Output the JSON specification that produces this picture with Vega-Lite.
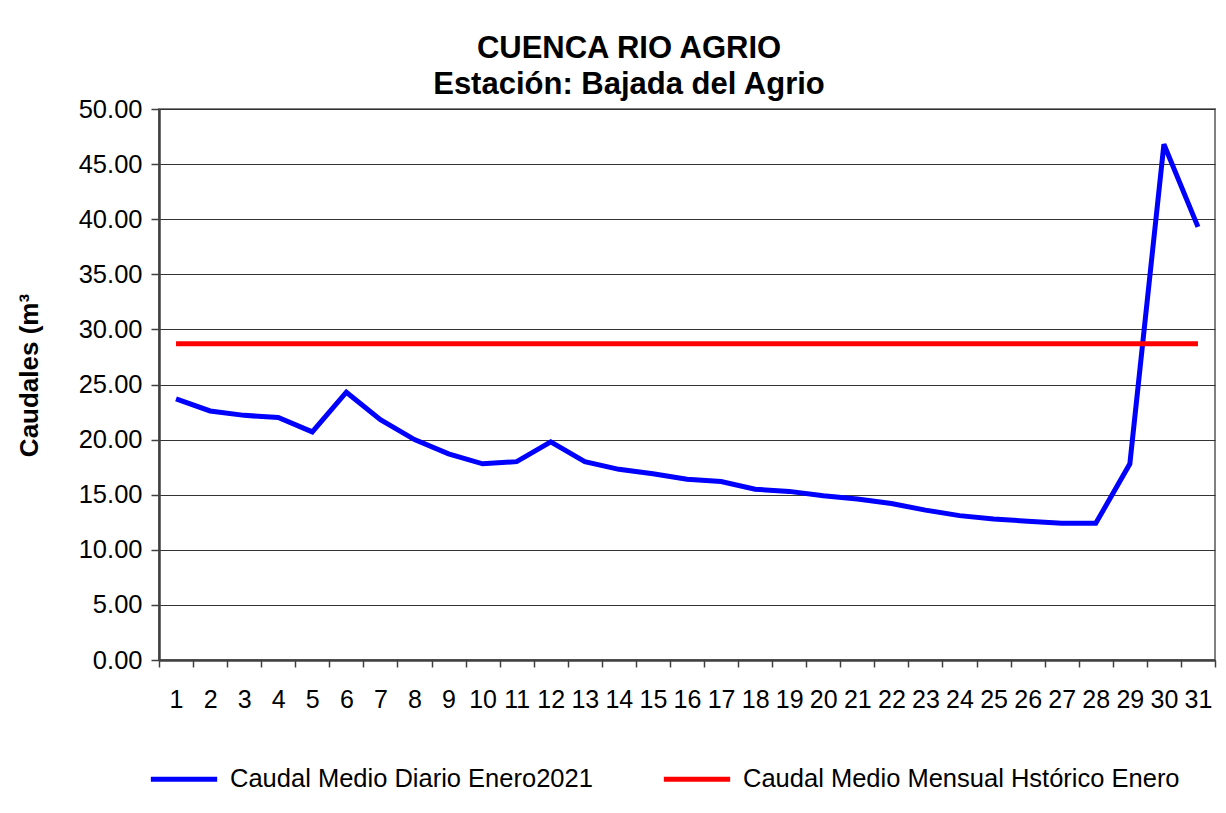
{
  "$schema": "https://vega.github.io/schema/vega-lite/v6.json",
  "autosize": {"type": "none"},
  "width": 1056,
  "height": 551,
  "padding": {"left": 159, "top": 109, "right": 11, "bottom": 153},
  "background": "white",
  "config": {
    "font": "Liberation Sans",
    "view": {"stroke": "#808080", "strokeWidth": 2}
  },
  "title": {
    "text": ["CUENCA RIO AGRIO", "Estación: Bajada del Agrio"],
    "font": "Liberation Sans",
    "fontSize": 31,
    "fontWeight": "bold",
    "color": "black",
    "anchor": "middle",
    "frame": "group",
    "dx": -58,
    "offset": -4,
    "lineHeight": 36
  },
  "data": {
    "values": [
      {"dia": 1, "serie": "Caudal Medio Diario Enero2021", "caudal": 23.7},
      {"dia": 2, "serie": "Caudal Medio Diario Enero2021", "caudal": 22.6},
      {"dia": 3, "serie": "Caudal Medio Diario Enero2021", "caudal": 22.2},
      {"dia": 4, "serie": "Caudal Medio Diario Enero2021", "caudal": 22.0},
      {"dia": 5, "serie": "Caudal Medio Diario Enero2021", "caudal": 20.7},
      {"dia": 6, "serie": "Caudal Medio Diario Enero2021", "caudal": 24.3},
      {"dia": 7, "serie": "Caudal Medio Diario Enero2021", "caudal": 21.8},
      {"dia": 8, "serie": "Caudal Medio Diario Enero2021", "caudal": 20.0},
      {"dia": 9, "serie": "Caudal Medio Diario Enero2021", "caudal": 18.7},
      {"dia": 10, "serie": "Caudal Medio Diario Enero2021", "caudal": 17.8},
      {"dia": 11, "serie": "Caudal Medio Diario Enero2021", "caudal": 18.0},
      {"dia": 12, "serie": "Caudal Medio Diario Enero2021", "caudal": 19.8},
      {"dia": 13, "serie": "Caudal Medio Diario Enero2021", "caudal": 18.0},
      {"dia": 14, "serie": "Caudal Medio Diario Enero2021", "caudal": 17.3},
      {"dia": 15, "serie": "Caudal Medio Diario Enero2021", "caudal": 16.9},
      {"dia": 16, "serie": "Caudal Medio Diario Enero2021", "caudal": 16.4},
      {"dia": 17, "serie": "Caudal Medio Diario Enero2021", "caudal": 16.2},
      {"dia": 18, "serie": "Caudal Medio Diario Enero2021", "caudal": 15.5},
      {"dia": 19, "serie": "Caudal Medio Diario Enero2021", "caudal": 15.3},
      {"dia": 20, "serie": "Caudal Medio Diario Enero2021", "caudal": 14.9},
      {"dia": 21, "serie": "Caudal Medio Diario Enero2021", "caudal": 14.6},
      {"dia": 22, "serie": "Caudal Medio Diario Enero2021", "caudal": 14.2},
      {"dia": 23, "serie": "Caudal Medio Diario Enero2021", "caudal": 13.6},
      {"dia": 24, "serie": "Caudal Medio Diario Enero2021", "caudal": 13.1},
      {"dia": 25, "serie": "Caudal Medio Diario Enero2021", "caudal": 12.8},
      {"dia": 26, "serie": "Caudal Medio Diario Enero2021", "caudal": 12.6},
      {"dia": 27, "serie": "Caudal Medio Diario Enero2021", "caudal": 12.4},
      {"dia": 28, "serie": "Caudal Medio Diario Enero2021", "caudal": 12.4},
      {"dia": 29, "serie": "Caudal Medio Diario Enero2021", "caudal": 17.8},
      {"dia": 30, "serie": "Caudal Medio Diario Enero2021", "caudal": 46.8},
      {"dia": 31, "serie": "Caudal Medio Diario Enero2021", "caudal": 39.3},
      {"dia": 1, "serie": "Caudal Medio Mensual Hstórico Enero", "caudal": 28.7},
      {"dia": 2, "serie": "Caudal Medio Mensual Hstórico Enero", "caudal": 28.7},
      {"dia": 3, "serie": "Caudal Medio Mensual Hstórico Enero", "caudal": 28.7},
      {"dia": 4, "serie": "Caudal Medio Mensual Hstórico Enero", "caudal": 28.7},
      {"dia": 5, "serie": "Caudal Medio Mensual Hstórico Enero", "caudal": 28.7},
      {"dia": 6, "serie": "Caudal Medio Mensual Hstórico Enero", "caudal": 28.7},
      {"dia": 7, "serie": "Caudal Medio Mensual Hstórico Enero", "caudal": 28.7},
      {"dia": 8, "serie": "Caudal Medio Mensual Hstórico Enero", "caudal": 28.7},
      {"dia": 9, "serie": "Caudal Medio Mensual Hstórico Enero", "caudal": 28.7},
      {"dia": 10, "serie": "Caudal Medio Mensual Hstórico Enero", "caudal": 28.7},
      {"dia": 11, "serie": "Caudal Medio Mensual Hstórico Enero", "caudal": 28.7},
      {"dia": 12, "serie": "Caudal Medio Mensual Hstórico Enero", "caudal": 28.7},
      {"dia": 13, "serie": "Caudal Medio Mensual Hstórico Enero", "caudal": 28.7},
      {"dia": 14, "serie": "Caudal Medio Mensual Hstórico Enero", "caudal": 28.7},
      {"dia": 15, "serie": "Caudal Medio Mensual Hstórico Enero", "caudal": 28.7},
      {"dia": 16, "serie": "Caudal Medio Mensual Hstórico Enero", "caudal": 28.7},
      {"dia": 17, "serie": "Caudal Medio Mensual Hstórico Enero", "caudal": 28.7},
      {"dia": 18, "serie": "Caudal Medio Mensual Hstórico Enero", "caudal": 28.7},
      {"dia": 19, "serie": "Caudal Medio Mensual Hstórico Enero", "caudal": 28.7},
      {"dia": 20, "serie": "Caudal Medio Mensual Hstórico Enero", "caudal": 28.7},
      {"dia": 21, "serie": "Caudal Medio Mensual Hstórico Enero", "caudal": 28.7},
      {"dia": 22, "serie": "Caudal Medio Mensual Hstórico Enero", "caudal": 28.7},
      {"dia": 23, "serie": "Caudal Medio Mensual Hstórico Enero", "caudal": 28.7},
      {"dia": 24, "serie": "Caudal Medio Mensual Hstórico Enero", "caudal": 28.7},
      {"dia": 25, "serie": "Caudal Medio Mensual Hstórico Enero", "caudal": 28.7},
      {"dia": 26, "serie": "Caudal Medio Mensual Hstórico Enero", "caudal": 28.7},
      {"dia": 27, "serie": "Caudal Medio Mensual Hstórico Enero", "caudal": 28.7},
      {"dia": 28, "serie": "Caudal Medio Mensual Hstórico Enero", "caudal": 28.7},
      {"dia": 29, "serie": "Caudal Medio Mensual Hstórico Enero", "caudal": 28.7},
      {"dia": 30, "serie": "Caudal Medio Mensual Hstórico Enero", "caudal": 28.7},
      {"dia": 31, "serie": "Caudal Medio Mensual Hstórico Enero", "caudal": 28.7}
    ]
  },
  "mark": {"type": "line", "strokeWidth": 5, "strokeJoin": "miter", "strokeCap": "butt"},
  "encoding": {
    "x": {
      "field": "dia",
      "type": "ordinal",
      "scale": {"paddingInner": 0, "paddingOuter": 0},
      "axis": {
        "title": null,
        "labelAngle": 0,
        "labelFontSize": 25,
        "labelColor": "black",
        "labelPadding": 20,
        "tickBand": "extent",
        "tickSize": 7,
        "tickColor": "#404040",
        "tickWidth": 1.5,
        "domainColor": "#404040",
        "domainWidth": 2.5,
        "grid": false
      }
    },
    "y": {
      "field": "caudal",
      "type": "quantitative",
      "scale": {"domain": [0, 50], "nice": false, "zero": true},
      "axis": {
        "title": "Caudales (m³",
        "titleFontSize": 26,
        "titleFontWeight": "bold",
        "titleColor": "black",
        "titlePadding": 36,
        "titleY": 266,
        "values": [0, 5, 10, 15, 20, 25, 30, 35, 40, 45, 50],
        "format": ".2f",
        "labelFontSize": 25.5,
        "labelColor": "black",
        "labelPadding": 9,
        "tickSize": 8,
        "tickColor": "#404040",
        "tickWidth": 1.5,
        "domainColor": "#404040",
        "domainWidth": 2.5,
        "grid": true,
        "gridColor": "#333333",
        "gridWidth": 1
      }
    },
    "color": {
      "field": "serie",
      "type": "nominal",
      "scale": {
        "domain": ["Caudal Medio Diario Enero2021", "Caudal Medio Mensual Hstórico Enero"],
        "range": ["#0000FF", "#FF0000"]
      },
      "legend": {
        "title": null,
        "orient": "none",
        "direction": "horizontal",
        "legendX": -11,
        "legendY": 634,
        "symbolType": "stroke",
        "symbolSize": 4400,
        "symbolStrokeWidth": 5,
        "labelFontSize": 25.5,
        "labelColor": "black",
        "labelLimit": 600,
        "labelOffset": 10,
        "columnPadding": 60,
        "padding": 0
      }
    }
  }
}
